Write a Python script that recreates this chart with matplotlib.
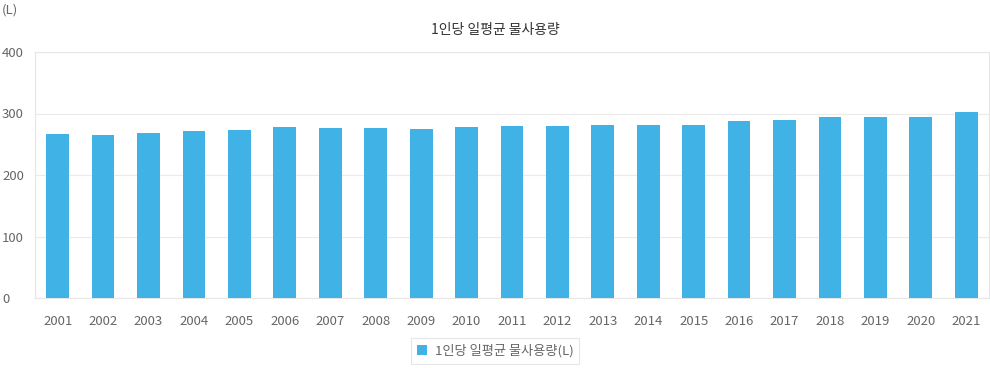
import matplotlib
matplotlib.use("Agg")
import matplotlib.pyplot as plt
from matplotlib.patches import Patch

plt.rcParams['font.family'] = ['Noto Sans CJK KR', 'DejaVu Sans']

years = ["2001", "2002", "2003", "2004", "2005", "2006", "2007", "2008", "2009", "2010", "2011",
         "2012", "2013", "2014", "2015", "2016", "2017", "2018", "2019", "2020", "2021"]
usage = [266, 265, 268, 271, 273, 278, 276, 276, 275, 278, 279,
         279, 282, 281, 282, 287, 290, 295, 295, 295, 303]
y_ticks = [0, 100, 200, 300, 400]
title = "1인당 일평균 물사용량"
series_name = "1인당 일평균 물사용량(L)"
unit = "(L)"

W, H = 990, 368
fig = plt.figure(figsize=(W / 100, H / 100), dpi=100)
left, right, top, bottom = 35, 989, 52, 298
ax = fig.add_axes([left / W, 1 - bottom / H, (right - left) / W, (bottom - top) / H])

color = "#41b2e6"
x = range(len(years))
ax.bar(x, usage, width=0.5, color=color, zorder=3)
ax.set_xlim(-0.5, len(years) - 0.5)
ax.set_ylim(0, 400)
ax.set_yticks(y_ticks)
ax.set_xticks(list(x))
ax.set_xticklabels(years)
ax.tick_params(axis='both', length=0, colors="#666666", labelsize=9.5)
ax.tick_params(axis='x', pad=12)
ax.grid(axis='y', color="#ebebeb", linewidth=0.8, zorder=0)
for s in ax.spines.values():
    s.set_color("#e6e6e6")
    s.set_linewidth(0.8)
ax.yaxis.set_tick_params(pad=0)
for lab in ax.get_yticklabels():
    lab.set_horizontalalignment('left')
    lab.set_transform(lab.get_transform() + matplotlib.transforms.ScaledTranslation(-33 / 100, 0, fig.dpi_scale_trans))

fig.text(495 / W, 1 - 30 / H, title, ha='center', va='center', fontsize=10, color="#333333")
fig.text(2 / W, 1 - 10 / H, unit, ha='left', va='center', fontsize=9.5, color="#666666")

leg = fig.legend(handles=[Patch(facecolor=color, edgecolor='none')], labels=[series_name],
                 loc='center', bbox_to_anchor=(495 / W, 1 - 351 / H), frameon=True,
                 fontsize=9.5, handlelength=0.75, handleheight=0.75, handletextpad=0.6,
                 borderpad=0.45, borderaxespad=0, fancybox=False)
leg.get_frame().set_edgecolor("#e0e0e0")
leg.get_frame().set_linewidth(0.8)
for t in leg.get_texts():
    t.set_color("#666666")

fig.savefig("out.png", dpi=100)
